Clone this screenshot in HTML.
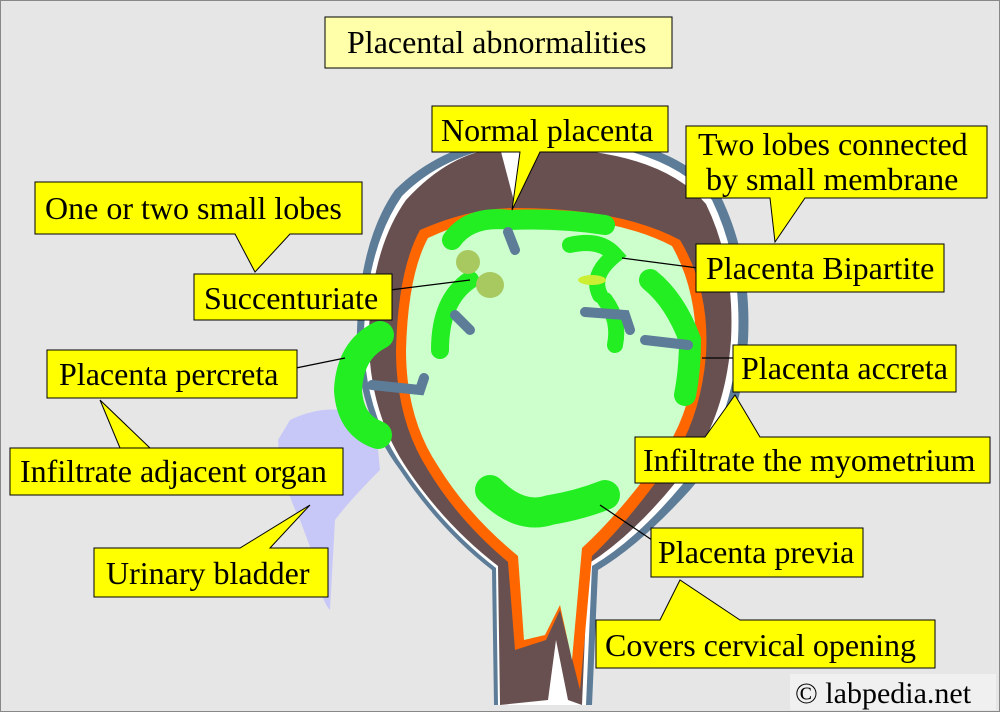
<!DOCTYPE html>
<html><head><meta charset="utf-8"><style>
html,body{margin:0;padding:0;background:#e6e6e6;}
svg{display:block}
text{font-family:"Liberation Serif",serif;font-size:32px;fill:#000}
</style></head><body>
<svg width="1000" height="712" viewBox="0 0 1000 712" xmlns="http://www.w3.org/2000/svg">
<rect x="0.5" y="0.5" width="999" height="711" fill="#e6e6e6" stroke="#888" stroke-width="1"/>
<!-- bladder -->
<path d="M290 420 Q330 400 375 418 L380 470 Q350 500 335 520 L330 610 Q320 600 315 560 L300 520 Q280 480 278 440 Z" fill="#c8c8f8"/>
<!-- uterus outer blue -->
<path d="M494 705 L492 570 Q440 530 400 470 Q355 410 357 330 Q360 240 395 190 Q450 135 550 132 Q670 135 720 195 Q752 260 748 340 Q742 430 690 490 Q640 545 598 570 L592 705 Z" fill="#5c7c98"/>
<path d="M498 705 L496 568 Q444 528 405 470 Q362 410 364 330 Q368 245 402 196 Q455 143 550 141 Q665 144 712 200 Q742 262 738 340 Q732 428 682 485 Q636 540 592 566 L586 705 Z" fill="#ffffff"/>
<!-- brown -->
<path d="M500 705 L498 566 Q446 526 408 470 Q367 410 369 330 Q372 248 406 200 Q450 152 500 148 L515 205 L540 148 Q660 150 706 204 Q735 264 731 340 Q725 426 676 482 Q632 536 588 564 L582 705 L568 700 L556 640 L548 700 Z" fill="#685050"/>
<!-- orange -->
<path d="M515 650 L508 562 Q458 520 428 470 Q396 420 396 350 Q398 270 420 230 Q470 208 515 208 Q620 208 680 240 Q710 290 706 355 Q700 425 665 470 Q625 525 592 556 L580 690 L560 610 L546 640 Z" fill="#ff6600"/>
<!-- interior -->
<path d="M524 640 L518 556 Q468 515 438 466 Q406 418 406 350 Q408 275 428 238 Q475 216 515 216 Q615 216 672 246 Q698 292 696 355 Q690 420 656 463 Q618 515 582 548 L572 660 L560 605 L545 635 Z" fill="#ccffcc"/>
<!-- placenta green -->
<g fill="none" stroke="#22ee22" stroke-linecap="round">
<path d="M452 240 Q470 215 510 220 Q560 218 605 225" stroke-width="20"/>
<path d="M570 245 Q600 238 615 255 Q590 275 600 295" stroke-width="16"/>
<path d="M650 280 Q675 300 690 340 Q690 370 685 395" stroke-width="22"/>
<path d="M605 300 Q620 320 615 345" stroke-width="16"/>
<path d="M470 280 Q440 300 440 350" stroke-width="18"/>
<path d="M380 335 Q350 350 348 390 Q350 425 378 435" stroke-width="28"/>
<path d="M490 490 Q520 520 550 510 Q580 505 605 495" stroke-width="30"/>
</g>
<!-- blue-gray strips -->
<g fill="none" stroke="#5c7c98" stroke-width="10" stroke-linecap="round">
<path d="M508 232 L515 250"/>
<path d="M455 315 L470 330"/>
<path d="M585 312 L625 315 L630 330"/>
<path d="M645 340 L688 345"/>
<path d="M372 385 L420 390 L424 378"/>
</g>
<ellipse cx="468" cy="262" rx="12" ry="12" fill="#a8c860"/>
<ellipse cx="490" cy="285" rx="14" ry="13" fill="#a8c860"/>
<ellipse cx="592" cy="280" rx="14" ry="5" fill="#ccee33"/>
<!-- callout connector lines -->
<g stroke="#000" stroke-width="1.2">
<line x1="390" y1="290" x2="470" y2="280"/>
<line x1="698" y1="268" x2="622" y2="258"/>
<line x1="296" y1="368" x2="345" y2="358"/>
<line x1="734" y1="358" x2="702" y2="358"/>
<line x1="652" y1="540" x2="600" y2="505"/>
</g>
<!-- boxes with tails -->
<g fill="#ffff00" stroke="#000" stroke-width="1">
<path d="M432 106 H668 V152 H540 L512 210 L520 152 H432 Z"/>
<path d="M686 126 H987 V198 H805 L775 242 L770 198 H686 Z"/>
<path d="M35 182 H362 V234 H290 L255 272 L235 234 H35 Z"/>
<rect x="194" y="274" width="198" height="46"/>
<rect x="696" y="244" width="248" height="48"/>
<rect x="47" y="350" width="250" height="48"/>
<rect x="733" y="345" width="223" height="47"/>
<path d="M10 448 H150 L100 400 L120 448 H343 V495 H10 Z"/>
<path d="M635 437 H705 L735 395 L760 437 H990 V483 H635 Z"/>
<path d="M94 548 H240 L310 505 L270 548 H328 V597 H94 Z"/>
<rect x="651" y="528" width="212" height="49"/>
<path d="M596 620 H660 L680 580 L740 620 H935 V668 H596 Z"/>
</g>
<rect x="325" y="17" width="347" height="51" fill="#ffffaa" stroke="#000" stroke-width="1"/>
<rect x="790" y="674" width="206" height="36" fill="#f0f0f0"/>
<text x="347" y="53">Placental abnormalities</text>
<text x="441" y="141">Normal placenta</text>
<text x="698" y="155">Two lobes connected</text>
<text x="706" y="190">by small membrane</text>
<text x="45" y="219">One or two small lobes</text>
<text x="204" y="309">Succenturiate</text>
<text x="706" y="279">Placenta Bipartite</text>
<text x="59" y="385">Placenta percreta</text>
<text x="741" y="379">Placenta accreta</text>
<text x="20" y="482">Infiltrate adjacent organ</text>
<text x="643" y="471">Infiltrate the myometrium</text>
<text x="106" y="584">Urinary bladder</text>
<text x="658" y="563">Placenta previa</text>
<text x="605" y="656">Covers cervical opening</text>
<text x="795" y="703" style="font-size:30px">© labpedia.net</text>
</svg>
</body></html>
